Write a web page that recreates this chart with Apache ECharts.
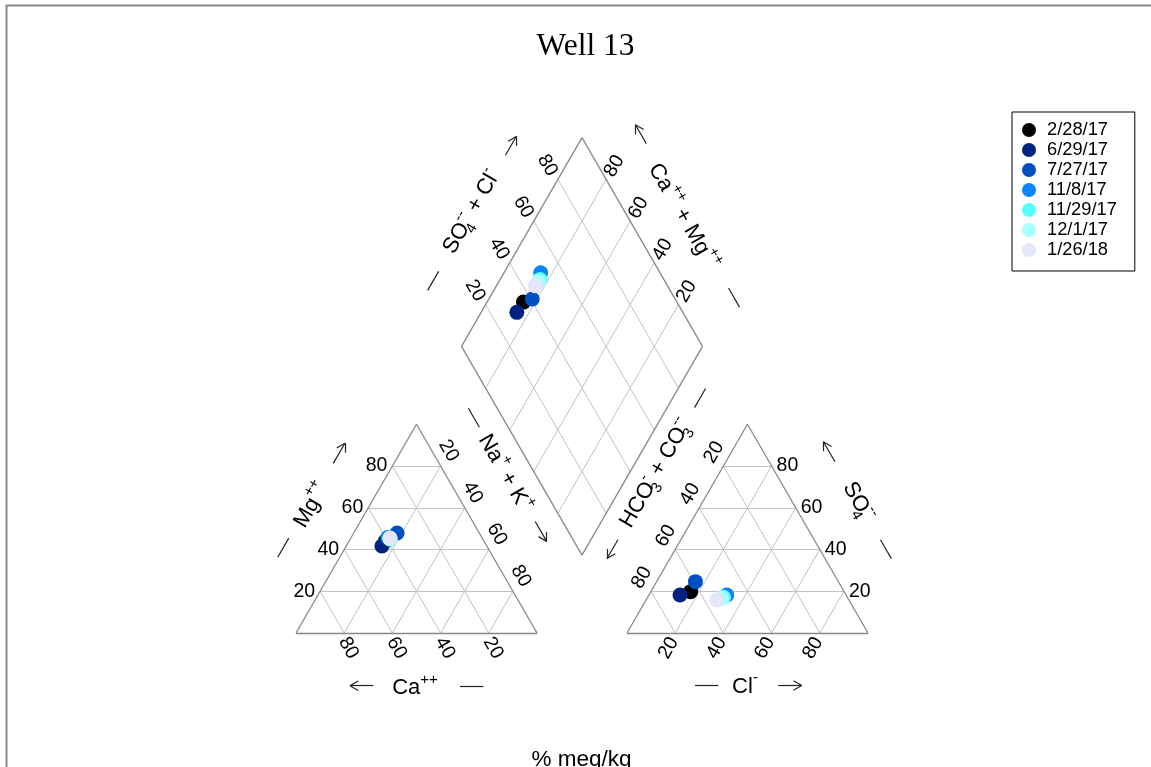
<!DOCTYPE html>
<html>
<head>
<meta charset="utf-8">
<title>Well 13 - Piper diagram</title>
<script src="https://cdn.jsdelivr.net/npm/echarts@6/dist/echarts.min.js"></script>
<style>
  html, body { margin: 0; padding: 0; background: #fff; }
  #chart { width: 1151px; height: 767px; }
</style>
</head>
<body>
<div id="chart"></div>
<script>
// ---------------- DATA (percent meq/kg) ----------------
const dates   = ['2/28/17', '6/29/17', '7/27/17', '11/8/17', '11/29/17', '12/1/17', '1/26/18'];
const caPct   = [40.9, 43.5, 34.1, 39.0, 38.4, 38.4, 38.3];
const mgPct   = [44.0, 41.7, 47.9, 45.8, 45.0, 45.2, 45.5];
const naKPct  = [15.1, 14.8, 18.0, 15.2, 16.6, 16.4, 16.2];
const hco3Pct = [63.7, 68.9, 59.3, 49.5, 51.4, 52.4, 54.8];
const so4Pct  = [19.8, 18.2, 24.6, 18.2, 17.1, 16.6, 15.8];
const clPct   = [16.5, 12.9, 16.1, 32.3, 31.5, 31.0, 29.4];
const tickValues = [20, 40, 60, 80];
const tickLabels = ['20', '40', '60', '80'];

// ---------------- STYLE / LAYOUT ----------------
const pointColors = ['#000000', '#002382', '#0050C4', '#0A84FF', '#55FFFF', '#A8FFFF', '#E6E6FA'];
const FONT = "'Liberation Sans', Arial, sans-serif";
const S = 2.41;          // pixels per diagram unit (triangle side = 100 units)
const X0 = 296, Y0 = 633, CW = 1151, CH = 767;
const GAP = 37.34;       // gap between the two triangles (units)
const H = 50 * Math.sqrt(3);
const OX = 100 + GAP;
const B = [100 + GAP / 2, GAP * Math.sqrt(3) / 2];
const Lv = [B[0] - 50, B[1] + H], Rv = [B[0] + 50, B[1] + H], Tv = [B[0], B[1] + 2 * H];

function cat(ca, mg, na) { const s = ca + mg + na; mg = mg / s * 100; na = na / s * 100; return [na + mg / 2, mg * H / 100]; }
function an(h, so, cl) { const s = h + so + cl; so = so / s * 100; cl = cl / s * 100; return [OX + cl + so / 2, so * H / 100]; }
function dpt(c, a) { return [B[0] + 50 * (a - c), B[1] + H * (a + c)]; }
function dia(ca, mg, na, h, so, cl) { return dpt((ca + mg) / (ca + mg + na), (so + cl) / (h + so + cl)); }
// px offset -> unit coordinates
function off(p, dx, dy) { return [p[0] + dx / S, p[1] - dy / S]; }

// ---------------- GRID / FRAME ----------------
const gridSegs = [], frameSegs = [];
tickValues.forEach(k => {
  const f = k / 100;
  gridSegs.push([[k / 2, f * H], [100 - k / 2, f * H]]);
  gridSegs.push([[100 - k, 0], [(100 - k) / 2, (1 - f) * H]]);
  gridSegs.push([[k, 0], [k + (100 - k) / 2, (1 - f) * H]]);
  gridSegs.push([[OX + k / 2, f * H], [OX + 100 - k / 2, f * H]]);
  gridSegs.push([[OX + k, 0], [OX + k + (100 - k) / 2, (1 - f) * H]]);
  gridSegs.push([[OX + 100 - k, 0], [OX + (100 - k) / 2, (1 - f) * H]]);
  gridSegs.push([dpt(0, f), dpt(1, f)]);
  gridSegs.push([dpt(f, 0), dpt(f, 1)]);
});
const tri1 = [[0, 0], [100, 0], [50, H]], tri2 = [[OX, 0], [OX + 100, 0], [OX + 50, H]], dmd = [B, Rv, Tv, Lv];
[tri1, tri2, dmd].forEach(poly => {
  poly.forEach((p, i) => frameSegs.push([p, poly[(i + 1) % poly.length]]));
});

// ---------------- TEXT ----------------
const noStroke = { textBorderWidth: 0, textBorderColor: 'transparent', textShadowBlur: 0 };
const rich = {
  m: Object.assign({ fontSize: 22, fontFamily: FONT, color: '#000', lineHeight: 32 }, noStroke),
  u: Object.assign({ fontSize: 15, fontFamily: FONT, color: '#000', lineHeight: 16, verticalAlign: 'top' }, noStroke),
  z: Object.assign({ fontSize: 15, fontFamily: FONT, color: '#000', lineHeight: 16, verticalAlign: 'bottom', width: 0 }, noStroke)
};
const textItems = [];
function addText(pos, txt, rot, align, size, isRich) {
  textItems.push({
    value: pos,
    label: Object.assign({
      show: true, position: 'inside', formatter: () => txt, rotate: rot || 0,
      align: align || 'center', verticalAlign: 'middle', opacity: 1,
      fontSize: size || 19.5, fontFamily: FONT, color: '#000',
      rich: isRich ? rich : undefined
    }, noStroke)
  });
}
tickValues.forEach((k, i) => {
  const f = k / 100, t = tickLabels[i];
  addText(off([k / 2, f * H], -5, 0), t, 0, 'right');
  addText(off([k + (100 - k) / 2, (1 - f) * H], 8, -15.3), t, -60);
  addText(off([100 - k, 0], 4.3, 15), t, -60);
  addText(off([OX + 100 - k / 2, f * H], 5, 0), t, 0, 'left');
  addText(off([OX + (100 - k) / 2, (1 - f) * H], -9.3, -13.7), t, 60);
  addText(off([OX + k, 0], -6.7, 15), t, 60);
  addText(off(dpt(1, f), -10.5, -14), t, -60);
  addText(off(dpt(f, 1), 8.2, -13.3), t, 60);
});

const mid = (p, q) => [(p[0] + q[0]) / 2, (p[1] + q[1]) / 2];
const axisTitles = [
  { a: [25, H / 2], t: [0.5, -0.866], n: [-0.866, -0.5], tx: [-2, 50.4], rot: 60, dash: [-64, -42, 53.7], arr: [45, 68.3, 52.5], s: '{m|Mg}{u|++}' },
  { a: [75, H / 2], t: [0.5, 0.866], n: [0.866, -0.5], tx: [-34, 52], rot: -60, dash: [-108.5, -86.5, 53], arr: [23, 46, 54.2], s: '{m|Na}{u|+}{m| + K}{u|+}' },
  { a: [50, 0], t: [-1, 0], n: [0, 1], tx: [1.5, 55], rot: 0, dash: [-66.8, -43.5, 53], arr: [43.2, 66.5, 52.7], s: '{m|Ca}{u|++}' },
  { a: [OX + 50, 0], t: [1, 0], n: [0, 1], tx: [-2.5, 53.7], rot: 0, dash: [-52.5, -29.2, 52], arr: [30.8, 54.2, 52.5], s: '{m|Cl}{u|-}' },
  { a: [OX + 75, H / 2], t: [-0.5, -0.866], n: [0.866, -0.5], tx: [-2, 57.3], rot: -60, dash: [-67.8, -46, 57.4], arr: [44.3, 67.5, 57], s: '{m|SO}{z|4}{u|--}' },
  { a: [OX + 25, H / 2], t: [-0.5, 0.866], n: [-0.866, -0.5], tx: [-32.5, 54.8], rot: 60, dash: [-130.5, -108.5, 54.2], arr: [44.3, 66, 54.5], s: '{m|HCO}{z|3}{u|-}{m| + CO}{z|3}{u|--}' },
  { a: mid(Lv, Tv), t: [0.5, -0.866], n: [-0.866, -0.5], tx: [1.2, 58.4], rot: 60, dash: [-89, -67, 57.3], arr: [67, 88.7, 57.5], s: '{m|SO}{z|4}{u|--}{m| + Cl}{u|-}' },
  { a: mid(Tv, Rv), t: [-0.5, -0.866], n: [0.866, -0.5], tx: [1.4, 48.2], rot: -60, dash: [-105, -83, 51.7], arr: [83.2, 104.9, 52.7], s: '{m|Ca}{u|++}{m| + Mg}{u|++}' }
];
const arrowSegs = [];
function along(T, tt, nn) { return off(T.a, tt * T.t[0] + nn * T.n[0], tt * T.t[1] + nn * T.n[1]); }
axisTitles.forEach(T => {
  addText(along(T, T.tx[0], T.tx[1]), T.s, T.rot, 'center', 22, true);
  arrowSegs.push([along(T, T.dash[0], T.dash[2]), along(T, T.dash[1], T.dash[2])]);
  const tail = along(T, T.arr[0], T.arr[2]), head = along(T, T.arr[1], T.arr[2]);
  arrowSegs.push([tail, head]);
  // open arrow head
  const dx = head[0] - tail[0], dy = head[1] - tail[1], len = Math.hypot(dx, dy);
  const ux = dx / len, uy = dy / len, hl = 9.5 / S, ang = 30 * Math.PI / 180;
  [ang, -ang].forEach(g => {
    const rx = ux * Math.cos(g) - uy * Math.sin(g), ry = ux * Math.sin(g) + uy * Math.cos(g);
    arrowSegs.push([head, [head[0] - rx * hl, head[1] - ry * hl]]);
  });
});

// ---------------- SERIES ----------------
const segData = segs => segs.map(s => ({ coords: s }));
const series = [
  { type: 'lines', coordinateSystem: 'cartesian2d', silent: true, data: segData(gridSegs),
    lineStyle: { color: '#c2c2c2', width: 1, opacity: 1 } },
  { type: 'lines', coordinateSystem: 'cartesian2d', silent: true, data: segData(frameSegs),
    lineStyle: { color: '#888888', width: 1.3, opacity: 1 } },
  { type: 'lines', coordinateSystem: 'cartesian2d', silent: true, data: segData(arrowSegs),
    lineStyle: { color: '#222222', width: 1.2, opacity: 1 } },
  { type: 'scatter', name: '_labels', silent: true, symbolSize: 0, data: textItems, emphasis: { disabled: true },
    itemStyle: { color: '#000', opacity: 1 } }
];
dates.forEach((d, i) => {
  series.push({
    type: 'scatter', name: d, symbol: 'circle', symbolSize: 15,
    itemStyle: { color: pointColors[i], opacity: 1 },
    data: [
      cat(caPct[i], mgPct[i], naKPct[i]),
      an(hco3Pct[i], so4Pct[i], clPct[i]),
      dia(caPct[i], mgPct[i], naKPct[i], hco3Pct[i], so4Pct[i], clPct[i])
    ]
  });
});

const chart = echarts.init(document.getElementById('chart'));
chart.setOption({
  animation: false,
  backgroundColor: '#ffffff',
  title: [
    { text: 'Well 13', left: 580.5, top: 26, textAlign: 'center',
      textStyle: { fontFamily: "'Liberation Serif', 'Times New Roman', serif", fontSize: 31.5, fontWeight: 'normal', color: '#000' } },
    { text: '% meq/kg', left: 576.5, top: 743, textAlign: 'center',
      textStyle: { fontFamily: FONT, fontSize: 22.5, fontWeight: 'normal', color: '#000' } }
  ],
  legend: {
    orient: 'vertical', left: 1012, top: 112, data: dates, icon: 'circle',
    itemWidth: 14, itemHeight: 14, itemGap: 2,
    borderColor: '#000', borderWidth: 1, padding: [9, 18, 12, 10],
    textStyle: { fontFamily: FONT, fontSize: 18.3, color: '#000', lineHeight: 18, padding: [0, 0, 0, 6] }
  },
  graphic: [
    { type: 'rect', silent: true, shape: { x: 6.5, y: 5.5, width: 1300, height: 900 },
      style: { fill: 'none', stroke: '#8a8a8a', lineWidth: 2 } }
  ],
  grid: { left: 0, right: 0, top: 0, bottom: 0, containLabel: false },
  xAxis: { type: 'value', min: -X0 / S, max: (CW - X0) / S, show: false },
  yAxis: { type: 'value', min: -(CH - Y0) / S, max: Y0 / S, show: false },
  series: series
});
</script>
</body>
</html>
